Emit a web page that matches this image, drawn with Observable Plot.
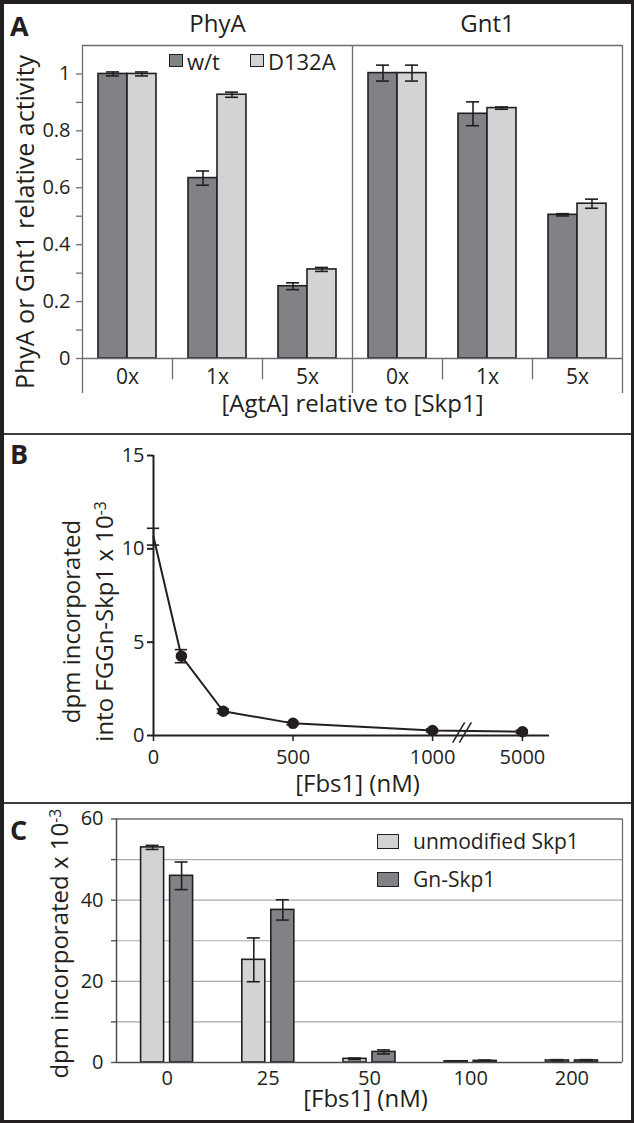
<!DOCTYPE html>
<html>
<head>
<meta charset="utf-8">
<script src="https://cdn.jsdelivr.net/npm/d3@7"></script>
<script src="https://cdn.jsdelivr.net/npm/@observablehq/plot@0.6"></script>
<style>
  body { margin: 0; background: #fff; font-family: "Open Sans", sans-serif; }
  #fig { position: relative; width: 634px; height: 1123px; overflow: hidden; background: #fff; }
  #fig .panel { position: absolute; left: 0; }
  #fig .border { position: absolute; left: 0; top: 0; width: 634px; height: 1123px; box-sizing: border-box;
    border-style: solid; border-color: #231f20; border-width: 4px 3px 3px 4px; pointer-events: none; }
  #fig .sep { position: absolute; left: 0; width: 634px; height: 2px; background: #3d3d3d; }
  #fig .letter { position: absolute; font-weight: bold; font-size: 27px; color: #231f20; line-height: 1; }
  #fig .lg { position: absolute; display: flex; align-items: center; color: #231f20; line-height: 1; white-space: nowrap; }
  #fig .sw { display: inline-block; box-sizing: border-box; border: 1.5px solid #231f20; }
</style>
</head>
<body>
<div id="fig"></div>
<script>
// ---------------- Panel A data ----------------
const assaysA = ["PhyA", "Gnt1"];
const levelsA = ["0x", "1x", "5x"];
const seriesA = ["w/t", "D132A"];
const wtValues    = [1.000, 0.634, 0.254, 1.003, 0.860, 0.505];
const wtErrors    = [0.007, 0.025, 0.012, 0.028, 0.042, 0.004];
const d132aValues = [1.000, 0.927, 0.313, 1.003, 0.880, 0.544];
const d132aErrors = [0.007, 0.009, 0.007, 0.028, 0.004, 0.016];
const yTicksA = [0, 0.2, 0.4, 0.6, 0.8, 1];
const yMinorTicksA = [0, 0.1, 0.2, 0.3, 0.4, 0.5, 0.6, 0.7, 0.8, 0.9, 1];
const yTitleA = "PhyA or Gnt1 relative activity";
const xTitleA = "[AgtA] relative to [Skp1]";

// ---------------- Panel B data ----------------
const fbsB = [0, 100, 250, 500, 1000, 5000];
const dpmB = [10.65, 4.25, 1.30, 0.65, 0.27, 0.20];
const dpmErrB = [0.45, 0.35, 0.12, 0.08, 0.08, 0.08];
const xTicksB = [0, 500, 1000, 5000];
const yTicksB = [0, 5, 10, 15];
const yTitleB = ["dpm incorporated", "into FGGn-Skp1 x 10^-3"];
const xTitleB = "[Fbs1] (nM)";

// ---------------- Panel C data ----------------
const fbsC = ["0", "25", "50", "100", "200"];
const seriesC = ["unmodified Skp1", "Gn-Skp1"];
const unmodValues = [53.0, 25.3, 0.9, 0.3, 0.5];
const unmodErrors = [0.5, 5.4, 0.2, 0.1, 0.2];
const gnValues    = [46.0, 37.6, 2.6, 0.4, 0.5];
const gnErrors    = [3.4, 2.5, 0.5, 0.2, 0.2];
const yTicksC = [0, 20, 40, 60];
const yMinorTicksC = [0, 10, 20, 30, 40, 50, 60];
const gridC = [10, 20, 30, 40, 50];
const yTitleC = "dpm incorporated x 10^-3";
const xTitleC = "[Fbs1] (nM)";

// ---------------- styling ----------------
const W = 634;
const INK = "#231f20", FRAME = "#6d6e71", GRID = "#a7a9ac", DARK = "#808285", LIGHT = "#d1d3d4";
const baseStyle = { fontFamily: "'Open Sans', sans-serif", fontSize: "20px", color: INK, background: "transparent", overflow: "visible" };
const T = { fill: INK, textAnchor: "middle", lineAnchor: "middle", text: d => d };
const fig = document.getElementById("fig");

function superscripts(svg) {
  const ns = "http://www.w3.org/2000/svg";
  svg.querySelectorAll("text").forEach(t => {
    if (t.children.length === 0 && t.textContent.includes("^")) {
      const [base, sup] = t.textContent.split("^");
      t.textContent = "";
      const a = document.createElementNS(ns, "tspan"); a.textContent = base; t.appendChild(a);
      const b = document.createElementNS(ns, "tspan"); b.textContent = sup;
      b.setAttribute("dy", "-0.45em"); b.setAttribute("font-size", "65%"); t.appendChild(b);
    }
  });
}
function place(node, top) {
  node.classList.add("panel");
  node.style.top = top + "px";
  superscripts(node);
  fig.appendChild(node);
}

// ================= Panel A =================
const barFracA = 29 / 90, capFracA = 13 / 90;
const rowsA = [];
assaysA.forEach((assay, ai) => levelsA.forEach((level, li) => {
  const k = ai * levelsA.length + li;
  seriesA.forEach((s, si) => {
    rowsA.push({
      assay, level, series: s,
      value: si === 0 ? wtValues[k] : d132aValues[k],
      err: si === 0 ? wtErrors[k] : d132aErrors[k],
      cx: k + 0.5 + (si - 0.5) * barFracA
    });
  });
}));
const nA = assaysA.length * levelsA.length;
const yMaxA = 1.1;
const groupCentersA = d3.range(nA).map(k => k + 0.5);

const plotA = Plot.plot({
  width: W, height: 434,
  marginLeft: 82, marginRight: 12, marginTop: 45, marginBottom: 76,
  x: { domain: [0, nA] },
  y: { domain: [0, yMaxA] },
  color: { domain: seriesA, range: [DARK, LIGHT] },
  style: baseStyle,
  marks: [
    Plot.rectY(rowsA, { x1: d => d.cx - barFracA / 2, x2: d => d.cx + barFracA / 2, y: "value", fill: "series", stroke: INK, strokeWidth: 1.6 }),
    Plot.ruleX(rowsA, { x: "cx", y1: d => d.value - d.err, y2: d => d.value + d.err, stroke: INK, strokeWidth: 1.6 }),
    Plot.ruleY(rowsA, { y: d => d.value + d.err, x1: d => d.cx - capFracA / 2, x2: d => d.cx + capFracA / 2, stroke: INK, strokeWidth: 1.6 }),
    Plot.ruleY(rowsA, { y: d => d.value - d.err, x1: d => d.cx - capFracA / 2, x2: d => d.cx + capFracA / 2, stroke: INK, strokeWidth: 1.6 }),
    Plot.ruleY([0], { x1: 0, x2: nA, stroke: FRAME, strokeWidth: 1.3 }),
    Plot.ruleY([yMaxA], { x1: 0, x2: nA, stroke: FRAME, strokeWidth: 1.3 }),
    Plot.ruleX([0, levelsA.length, nA], { y1: -0.123, y2: yMaxA, stroke: FRAME, strokeWidth: 1.3 }),
    Plot.ruleX(d3.range(1, nA).filter(k => k % levelsA.length !== 0), { y1: 0, y2: -0.075, stroke: FRAME, strokeWidth: 1.3 }),
    Plot.axisY({ ticks: yMinorTicksA, tickSize: 6, tickFormat: () => "", stroke: FRAME, strokeWidth: 1.3, label: null }),
    Plot.axisY({ ticks: yTicksA, tickSize: 0, tickPadding: 12, tickFormat: d3.format("~g"), fontSize: 20, label: null }),
    Plot.axisX({ ticks: groupCentersA, tickSize: 0, tickPadding: 11, fontSize: 21, label: null,
      tickFormat: d => levelsA[Math.floor(d) % levelsA.length] }),
    Plot.text(assaysA, { ...T, x: (d, i) => (i + 0.5) * levelsA.length, frameAnchor: "top", dy: -21, fontSize: 24 }),
    Plot.text([xTitleA], { ...T, frameAnchor: "bottom", dy: 46, fontSize: 24 }),
    Plot.text([yTitleA], { ...T, frameAnchor: "left", dx: -57, dy: 20, rotate: -90, fontSize: 25 })
  ]
});
place(plotA, 0);

// ================= Panel B =================
const brokenPosB = 1322;            // axis position used for the value after the break
const breakAtB = 1105;              // where the "//" break is drawn
const xEndB = 1419;
const posB = c => (c <= 1000 ? c : brokenPosB);
const rowsB = fbsB.map((c, i) => ({ conc: c, x: posB(c), value: dpmB[i], err: dpmErrB[i] }));
const tickLabelB = new Map(xTicksB.map(c => [posB(c), String(c)]));
const capB = 22;

const plotB = Plot.plot({
  width: W, height: 366,
  marginLeft: 153, marginRight: 85, marginTop: 19, marginBottom: 67,
  x: { domain: [0, xEndB] },
  y: { domain: [0, 15] },
  style: baseStyle,
  marks: [
    Plot.ruleY([0], { x1: 0, x2: xEndB, stroke: INK, strokeWidth: 2 }),
    Plot.ruleX([0], { y1: 0, y2: 15, stroke: INK, strokeWidth: 2 }),
    Plot.axisY({ ticks: yTicksB, tickSize: 6, tickPadding: 3, strokeWidth: 2, fontSize: 20, label: null }),
    Plot.axisX({ ticks: xTicksB.map(posB), tickSize: 6, tickPadding: 8, strokeWidth: 1.5, fontSize: 20, label: null,
      tickFormat: d => tickLabelB.get(d) }),
    Plot.link([0, 1], { x1: i => breakAtB - 33 + i * 24, x2: i => breakAtB + 10 + i * 24, y1: -0.38, y2: 0.7, stroke: INK, strokeWidth: 1.5 }),
    Plot.line(rowsB, { x: "x", y: "value", stroke: INK, strokeWidth: 2 }),
    Plot.ruleX(rowsB, { x: "x", y1: d => d.value - d.err, y2: d => d.value + d.err, stroke: INK, strokeWidth: 1.6 }),
    Plot.ruleY(rowsB, { y: d => d.value + d.err, x1: d => d.x - capB, x2: d => d.x + capB, stroke: INK, strokeWidth: 1.6 }),
    Plot.ruleY(rowsB, { y: d => d.value - d.err, x1: d => d.x - capB, x2: d => d.x + capB, stroke: INK, strokeWidth: 1.6 }),
    Plot.dot(rowsB.filter(d => d.conc > 0), { x: "x", y: "value", r: 5, fill: INK, stroke: INK }),
    Plot.text([yTitleB[0]], { ...T, frameAnchor: "left", dx: -81, dy: 26, rotate: -90, fontSize: 24 }),
    Plot.text([yTitleB[1]], { ...T, frameAnchor: "left", dx: -48, dy: 26, rotate: -90, fontSize: 24 }),
    Plot.text([xTitleB], { ...T, frameAnchor: "bottom", dx: 6, dy: 49, fontSize: 24 })
  ]
});
place(plotB, 436);

// ================= Panel C =================
const barOuterC = 26 / 101.2, barInnerC = 3 / 101.2, capFracC = 13 / 101.2;
const rowsC = [];
fbsC.forEach((c, k) => {
  seriesC.forEach((s, si) => {
    const sign = si === 0 ? -1 : 1;
    const a = k + 0.5 + sign * barInnerC, b = k + 0.5 + sign * barOuterC;
    rowsC.push({
      fbs: c, series: s,
      value: si === 0 ? unmodValues[k] : gnValues[k],
      err: si === 0 ? unmodErrors[k] : gnErrors[k],
      x1: Math.min(a, b), x2: Math.max(a, b), cx: (a + b) / 2
    });
  });
});
const nC = fbsC.length;

const plotC = Plot.plot({
  width: W, height: 319,
  marginLeft: 116, marginRight: 12, marginTop: 14.5, marginBottom: 61,
  x: { domain: [0, nC] },
  y: { domain: [0, 60] },
  color: { domain: seriesC, range: [LIGHT, DARK] },
  style: baseStyle,
  marks: [
    Plot.ruleY(gridC, { x1: 0, x2: nC, stroke: GRID, strokeWidth: 1.2 }),
    Plot.ruleY([60], { x1: 0, x2: nC, stroke: FRAME, strokeWidth: 1.3 }),
    Plot.ruleX([nC], { y1: 0, y2: 60, stroke: FRAME, strokeWidth: 1.3 }),
    Plot.rectY(rowsC, { x1: "x1", x2: "x2", y: "value", fill: "series", stroke: INK, strokeWidth: 1.6 }),
    Plot.ruleX(rowsC, { x: "cx", y1: d => d.value - d.err, y2: d => d.value + d.err, stroke: INK, strokeWidth: 1.6 }),
    Plot.ruleY(rowsC, { y: d => d.value + d.err, x1: d => d.cx - capFracC / 2, x2: d => d.cx + capFracC / 2, stroke: INK, strokeWidth: 1.6 }),
    Plot.ruleY(rowsC, { y: d => d.value - d.err, x1: d => d.cx - capFracC / 2, x2: d => d.cx + capFracC / 2, stroke: INK, strokeWidth: 1.6 }),
    Plot.ruleX([0], { y1: 0, y2: 60, stroke: "#4d4d4f", strokeWidth: 1.5 }),
    Plot.ruleY([0], { x1: 0, x2: nC, stroke: "#4d4d4f", strokeWidth: 1.5 }),
    Plot.axisY({ ticks: yMinorTicksC, tickSize: 5, tickFormat: () => "", stroke: "#4d4d4f", strokeWidth: 1.3, label: null }),
    Plot.axisY({ ticks: yTicksC, tickSize: 0, tickPadding: 13, fontSize: 20, label: null }),
    Plot.axisX({ ticks: d3.range(nC).map(k => k + 0.5), tickSize: 0, tickPadding: 8, fontSize: 20, label: null,
      tickFormat: d => fbsC[Math.floor(d)] }),
    Plot.text([xTitleC], { ...T, frameAnchor: "bottom", dx: -4, dy: 37, fontSize: 24 }),
    Plot.text([yTitleC], { ...T, frameAnchor: "left", dx: -56, dy: 3, rotate: -90, fontSize: 24 })
  ]
});
place(plotC, 804);

// ================= overlays: legends, letters, frame =================
function legendItem(label, color, left, top, sw, fontSize) {
  const item = document.createElement("div");
  item.className = "lg";
  item.style.left = left + "px";
  item.style.top = top + "px";
  item.style.height = sw[1] + "px";
  item.style.fontSize = fontSize + "px";
  const box = document.createElement("span");
  box.className = "sw";
  box.style.width = sw[0] + "px"; box.style.height = sw[1] + "px"; box.style.background = color;
  const txt = document.createElement("span");
  txt.textContent = label;
  txt.style.marginLeft = sw[2] + "px";
  item.appendChild(box); item.appendChild(txt);
  fig.appendChild(item);
}
const colorA = plotA.scale("color");
legendItem(seriesA[0], colorA.apply(seriesA[0]), 169, 54, [14, 13, 4], 22);
legendItem(seriesA[1], colorA.apply(seriesA[1]), 250, 54, [14, 13, 4], 22);
const colorC = plotC.scale("color");
legendItem(seriesC[0], colorC.apply(seriesC[0]), 377, 834, [22, 15, 14], 21);
legendItem(seriesC[1], colorC.apply(seriesC[1]), 377, 872, [22, 15, 14], 21);

[["A", 12], ["B", 440], ["C", 816]].forEach(([t, top]) => {
  const d = document.createElement("div");
  d.className = "letter"; d.textContent = t;
  d.style.left = "10px"; d.style.top = top + "px";
  fig.appendChild(d);
});
[433, 802].forEach(y => {
  const s = document.createElement("div");
  s.className = "sep"; s.style.top = y + "px";
  fig.appendChild(s);
});
const border = document.createElement("div");
border.className = "border";
fig.appendChild(border);
</script>
</body>
</html>
